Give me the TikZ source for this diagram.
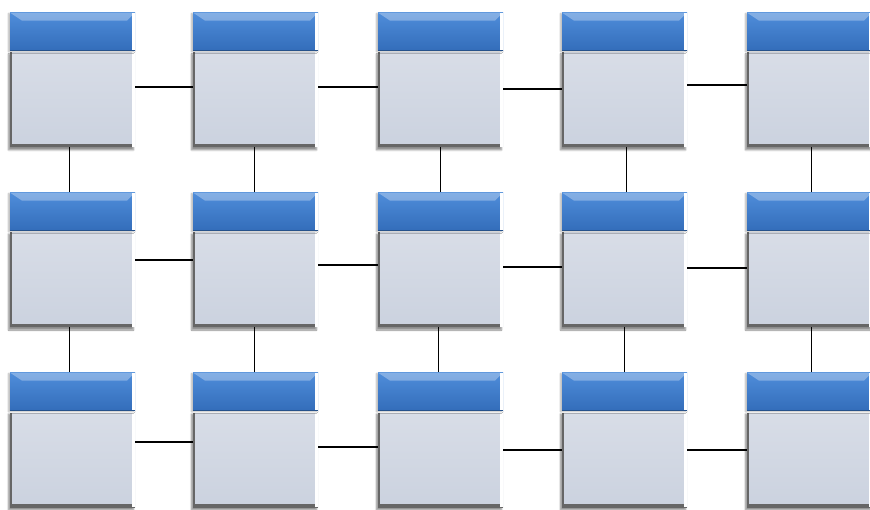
\documentclass[tikz,border=0pt]{standalone}
\usetikzlibrary{positioning,shadows.blur}
\definecolor{hdrtop}{HTML}{4F8DDA}
\definecolor{hdrbot}{HTML}{336DBA}
\definecolor{bodytop}{HTML}{D8DDE7}
\definecolor{bodybot}{HTML}{CBD2DF}
\definecolor{edgegray}{HTML}{666666}
\tikzset{
  body/.style={rectangle,minimum width=125pt,minimum height=96pt,inner sep=0pt,
    top color=bodytop,bottom color=bodybot,
    blur shadow={shadow xshift=-1.5pt,shadow yshift=-3pt,shadow blur steps=6,shadow opacity=45},
    path picture={
      \draw[edgegray,line width=4pt](path picture bounding box.north west)--(path picture bounding box.south west);
      \draw[edgegray,line width=6pt](path picture bounding box.south west)--(path picture bounding box.south east);
      \draw[white,line width=6pt](path picture bounding box.south east)--(path picture bounding box.north east);
      \draw[white,line width=3pt](path picture bounding box.north west)--(path picture bounding box.north east);
    }},
  header/.style={rectangle,minimum width=125pt,minimum height=38pt,inner sep=0pt,
    top color=hdrtop,bottom color=hdrbot,
    blur shadow={shadow xshift=-1.5pt,shadow yshift=-1pt,shadow blur steps=6,shadow opacity=30},
    path picture={
      \fill[white,opacity=0.3](path picture bounding box.north west)--(path picture bounding box.north east)
        --([xshift=-8pt,yshift=-8pt]path picture bounding box.north east)--([xshift=12pt,yshift=-8pt]path picture bounding box.north west)--cycle;
      \draw[white,line width=6pt](path picture bounding box.south east)--(path picture bounding box.north east);
      \draw[hdrbot!75!black,line width=2pt](path picture bounding box.south west)--(path picture bounding box.south east);
    }},
  link/.style={line width=1.5pt,black}
}
\begin{document}
\begin{tikzpicture}[x=1pt,y=-1pt]
\useasboundingbox (0,0) rectangle (870,510);
\clip (0,0) rectangle (870,510);
% row 1
\node[body](b11) at (72.5,99){};  \node[header,above=0pt of b11](h11){};
\node[body](b12) at (255.5,99){}; \node[header,above=0pt of b12](h12){};
\node[body](b13) at (440.5,99){}; \node[header,above=0pt of b13](h13){};
\node[body](b14) at (624.5,99){}; \node[header,above=0pt of b14](h14){};
\node[body](b15) at (809.5,99){}; \node[header,above=0pt of b15](h15){};
% row 2
\node[body](b21) at (72.5,279){};  \node[header,above=0pt of b21](h21){};
\node[body](b22) at (255.5,279){}; \node[header,above=0pt of b22](h22){};
\node[body](b23) at (440.5,279){}; \node[header,above=0pt of b23](h23){};
\node[body](b24) at (624.5,279){}; \node[header,above=0pt of b24](h24){};
\node[body](b25) at (809.5,279){}; \node[header,above=0pt of b25](h25){};
% row 3
\node[body](b31) at (72.5,459){};  \node[header,above=0pt of b31](h31){};
\node[body](b32) at (255.5,459){}; \node[header,above=0pt of b32](h32){};
\node[body](b33) at (440.5,459){}; \node[header,above=0pt of b33](h33){};
\node[body](b34) at (624.5,459){}; \node[header,above=0pt of b34](h34){};
\node[body](b35) at (809.5,459){}; \node[header,above=0pt of b35](h35){};
% horizontal links
\draw[link]([yshift=12pt]b11.east)--([yshift=12pt]b12.west);
\draw[link]([yshift=12pt]b12.east)--([yshift=12pt]b13.west);
\draw[link]([yshift=10pt]b13.east)--([yshift=10pt]b14.west);
\draw[link]([yshift=14pt]b14.east)--([yshift=14pt]b15.west);
\draw[link]([yshift=19pt]b21.east)--([yshift=19pt]b22.west);
\draw[link]([yshift=14pt]b22.east)--([yshift=14pt]b23.west);
\draw[link]([yshift=12pt]b23.east)--([yshift=12pt]b24.west);
\draw[link]([yshift=11pt]b24.east)--([yshift=11pt]b25.west);
\draw[link]([yshift=17pt]b31.east)--([yshift=17pt]b32.west);
\draw[link]([yshift=12pt]b32.east)--([yshift=12pt]b33.west);
\draw[link]([yshift=9pt]b33.east)--([yshift=9pt]b34.west);
\draw[link]([yshift=9pt]b34.east)--([yshift=9pt]b35.west);
% vertical links
\draw[link]([xshift=-3pt]b11.south)--([xshift=-3pt]h21.north);
\draw[link]([xshift=-1pt]b12.south)--([xshift=-1pt]h22.north);
\draw[link](b13)--(h23);
\draw[link]([xshift=2pt]b14.south)--([xshift=2pt]h24.north);
\draw[link]([xshift=2pt]b15.south)--([xshift=2pt]h25.north);
\draw[link]([xshift=-3pt]b21.south)--([xshift=-3pt]h31.north);
\draw[link]([xshift=-1pt]b22.south)--([xshift=-1pt]h32.north);
\draw[link]([xshift=-2pt]b23.south)--([xshift=-2pt]h33.north);
\draw[link](b24)--(h34);
\draw[link]([xshift=2pt]b25.south)--([xshift=2pt]h35.north);
\end{tikzpicture}
\end{document}
